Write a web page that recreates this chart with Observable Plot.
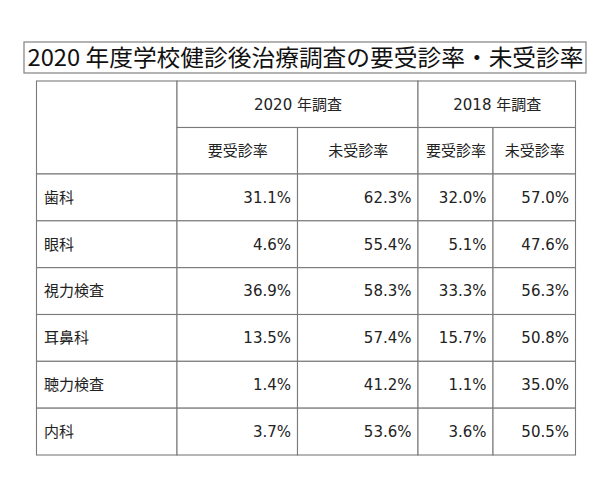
<!DOCTYPE html>
<html>
<head>
<meta charset="utf-8">
<script src="https://cdn.jsdelivr.net/npm/d3@7"></script>
<script src="https://cdn.jsdelivr.net/npm/@observablehq/plot@0.6"></script>
<style>
  html, body { margin: 0; padding: 0; background: #fff; }
  svg { display: block; }
</style>
</head>
<body>
<div id="chart"></div>
<script>
// ---- data ----
const title = "2020 年度学校健診後治療調査の要受診率・未受診率";
const categories = ["歯科", "眼科", "視力検査", "耳鼻科", "聴力検査", "内科"];
const surveys = ["2020 年調査", "2018 年調査"];
const measures = ["要受診率", "未受診率"];
const req2020 = [31.1, 4.6, 36.9, 13.5, 1.4, 3.7];
const unrec2020 = [62.3, 55.4, 58.3, 57.4, 41.2, 53.6];
const req2018 = [32.0, 5.1, 33.3, 15.7, 1.1, 3.6];
const unrec2018 = [57.0, 47.6, 56.3, 50.8, 35.0, 50.5];
const series = [req2020, unrec2020, req2018, unrec2018];

// ---- layout ----
const colEdges = [36.5, 177, 297.5, 418, 493, 575.5];
const headTop = 81, headMid = 127.5, bodyTop = 174;
const bodyBottom = 455;
const rowH = (bodyBottom - bodyTop) / categories.length;
const pad = 7;
const fmt = v => v.toFixed(1) + "%";

const cells = [];
const texts = [];
// top-left empty header
cells.push({x1: colEdges[0], x2: colEdges[1], y1: headTop, y2: bodyTop});
// survey headers
surveys.forEach((s, k) => {
  const x1 = colEdges[1 + 2 * k], x2 = colEdges[3 + 2 * k];
  cells.push({x1, x2, y1: headTop, y2: headMid});
  texts.push({x: (x1 + x2) / 2, y: (headTop + headMid) / 2, text: s, anchor: "middle"});
  measures.forEach((m, j) => {
    const a = colEdges[1 + 2 * k + j], b = colEdges[2 + 2 * k + j];
    cells.push({x1: a, x2: b, y1: headMid, y2: bodyTop});
    texts.push({x: (a + b) / 2, y: (headMid + bodyTop) / 2, text: m, anchor: "middle"});
  });
});
// body
categories.forEach((c, i) => {
  const y1 = bodyTop + i * rowH, y2 = y1 + rowH, yc = (y1 + y2) / 2;
  cells.push({x1: colEdges[0], x2: colEdges[1], y1, y2});
  texts.push({x: colEdges[0] + pad, y: yc, text: c, anchor: "start"});
  series.forEach((vals, j) => {
    const a = colEdges[1 + j], b = colEdges[2 + j];
    cells.push({x1: a, x2: b, y1, y2});
    texts.push({x: b - pad, y: yc, text: fmt(vals[i]), anchor: "end"});
  });
});

const titleBox = [{x1: 24, x2: 586, y1: 42, y2: 73}];
const tableFont = "'DejaVu Sans', 'Noto Sans CJK JP', sans-serif";

const plot = Plot.plot({
  width: 613,
  height: 480,
  margin: 0,
  x: {domain: [0, 613], range: [0, 613], axis: null},
  y: {domain: [0, 480], range: [0, 480], axis: null},
  style: {fontFamily: "'Noto Sans CJK JP', 'Noto Sans', sans-serif", background: "#fff"},
  marks: [
    Plot.rect(titleBox, {x1: "x1", x2: "x2", y1: "y1", y2: "y2", fill: "#fff", stroke: "#8a8a8a", strokeWidth: 1.3}),
    Plot.text(titleBox, {x: d => (d.x1 + d.x2) / 2, y: d => (d.y1 + d.y2) / 2 + 1, text: () => title, fontSize: 23, fill: "#111", textAnchor: "middle", className: "ttl"}),
    Plot.rect(cells, {x1: "x1", x2: "x2", y1: "y1", y2: "y2", fill: "#fff", stroke: "#7a7a7a", strokeWidth: 1.1}),
    Plot.text(texts.filter(d => d.anchor === "middle"), {x: "x", y: "y", text: "text", fontSize: 15, fill: "#222", textAnchor: "middle", fontFamily: tableFont}),
    Plot.text(texts.filter(d => d.anchor === "start"), {x: "x", y: "y", text: "text", fontSize: 15, fill: "#222", textAnchor: "start", fontFamily: tableFont}),
    Plot.text(texts.filter(d => d.anchor === "end"), {x: "x", y: "y", text: "text", fontSize: 15, fill: "#222", textAnchor: "end", fontFamily: tableFont})
  ]
});
document.getElementById("chart").appendChild(plot);
// stretch the title to the box width like the reference
const t = plot.querySelector(".ttl text");
if (t) { t.setAttribute("textLength", 556); t.setAttribute("lengthAdjust", "spacingAndGlyphs"); }
</script>
</body>
</html>
